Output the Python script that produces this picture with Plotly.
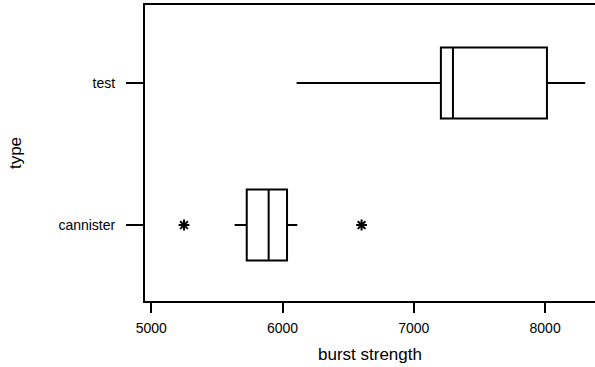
import plotly.graph_objects as go

# Summary statistics of burst strength by container type
types = ["cannister", "test"]
lower_whisker = [5635, 6107]
q1 = [5727, 7206]
median = [5894, 7298]
q3 = [6034, 8014]
upper_whisker = [6112, 8305]

# Points beyond the whiskers
outlier_type = ["cannister", "cannister"]
outlier_value = [5249, 6602]

x_ticks = [5000, 6000, 7000, 8000]

fig = go.Figure()

fig.add_trace(go.Box(
    y=types,
    q1=q1,
    median=median,
    q3=q3,
    lowerfence=lower_whisker,
    upperfence=upper_whisker,
    orientation="h",
    width=0.5,
    fillcolor="white",
    line=dict(color="black", width=2),
    whiskerwidth=0,
    boxpoints=False,
    hoverinfo="skip",
    showlegend=False,
))

fig.add_trace(go.Scatter(
    x=outlier_value,
    y=outlier_type,
    mode="markers",
    marker=dict(symbol="asterisk-open", size=9, color="black",
                line=dict(color="black", width=2)),
    showlegend=False,
    hoverinfo="skip",
))

font = "Liberation Sans, Arial, sans-serif"

fig.update_layout(
    width=595,
    height=367,
    margin=dict(l=145, r=0, t=5, b=66),
    paper_bgcolor="white",
    plot_bgcolor="white",
    font=dict(family=font, color="black", size=14),
    xaxis=dict(
        range=[4952, 8380],
        tickvals=x_ticks,
        ticktext=[str(v) for v in x_ticks],
        ticks="outside",
        ticklen=10,
        tickwidth=2,
        tickcolor="black",
        showline=True,
        linecolor="black",
        linewidth=2,
        mirror=True,
        showgrid=False,
        zeroline=False,
        tickfont=dict(size=14),
        ticklabelstandoff=3,
        title=dict(text="burst strength", font=dict(size=17), standoff=13),
    ),
    yaxis=dict(
        type="category",
        categoryorder="array",
        categoryarray=types,
        range=[-0.535, 1.549],
        ticks="outside",
        ticklen=17,
        tickwidth=2,
        tickcolor="black",
        showline=True,
        linecolor="black",
        linewidth=2,
        showgrid=False,
        zeroline=False,
        tickfont=dict(size=14),
        ticklabelstandoff=8,
        title=dict(text="type", font=dict(size=17), standoff=32),
    ),
)

fig.write_html("out.html")
